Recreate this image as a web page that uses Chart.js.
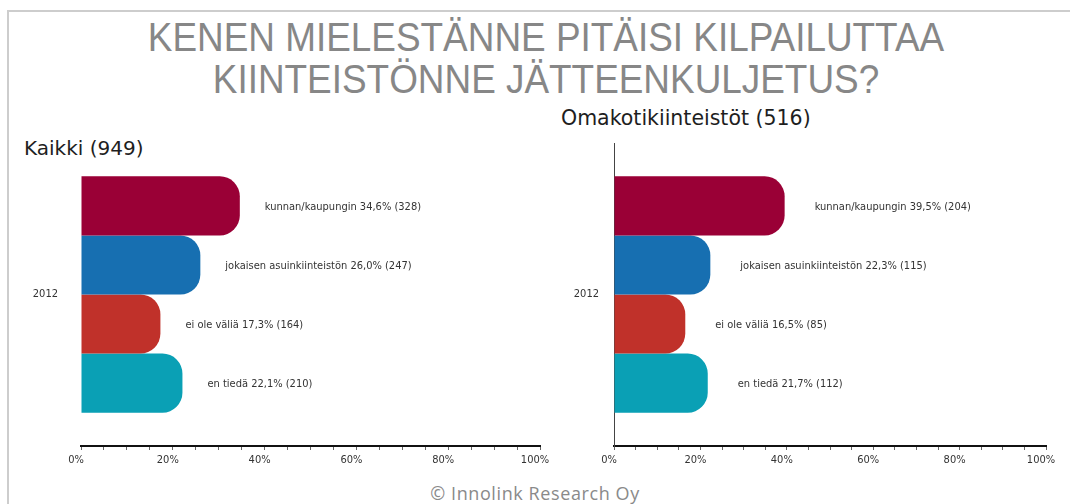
<!DOCTYPE html>
<html>
<head>
<meta charset="utf-8">
<script src="https://cdn.jsdelivr.net/npm/chart.js@4"></script>
<style>
  html, body { margin: 0; padding: 0; background: #fff; }
  body { width: 1070px; height: 504px; position: relative; overflow: hidden; }
  #frame { position: absolute; left: 7px; top: 10px; width: 1061px; height: 520px;
    border-top: 2px solid #cdcdcd; border-left: 2px solid #cdcdcd; }
  #title { position: absolute; left: 0; top: 16px; width: 1092px; text-align: center;
    font-family: 'Liberation Sans Narrow', 'Arial Narrow', 'Liberation Sans', sans-serif;
    font-size: 41px; line-height: 42px; color: #878787;
    transform: scaleX(0.9); transform-origin: 50% 0; }
  .sub { position: absolute; font-family: 'DejaVu Sans', Verdana, sans-serif;
    font-size: 20px; line-height: 20px; color: #1e1e1e; white-space: nowrap; }
  #copy { position: absolute; left: 0; width: 1070px; top: 481px; text-align: center;
    font-family: 'Open Sans', sans-serif; font-size: 18px; letter-spacing: 0.6px; color: #8a8a8a; }
  .box { position: absolute; }
</style>
</head>
<body>
<div id="frame"></div>
<div id="title">KENEN MIELESTÄNNE PITÄISI KILPAILUTTAA<br>KIINTEISTÖNNE JÄTTEENKULJETUS?</div>
<div class="sub" style="left:24px; top:138px;">Kaikki (949)</div>
<div class="sub" style="left:561px; top:108px; font-size:20.5px;">Omakotikiinteistöt (516)</div>
<div class="box" style="left:10px; top:125px;"><canvas id="left" width="560" height="355"></canvas></div>
<div class="box" style="left:550px; top:125px;"><canvas id="right" width="520" height="355"></canvas></div>
<div id="copy">© Innolink Research Oy</div>
<script>
'use strict'
// kategoriat ja vastausvaihtoehdot
const categories = ['2012']
const answers = ['kunnan/kaupungin', 'jokaisen asuinkiinteistön', 'ei ole väliä', 'en tiedä']
const colors = ['#9a0036', '#176fb1', '#c0312a', '#0aa0b5']

// Kaikki (949)
const allPct = [34.6, 26.0, 17.3, 22.1]
const allCount = [328, 247, 164, 210]

// Omakotikiinteistöt (516)
const housePct = [39.5, 22.3, 16.5, 21.7]
const houseCount = [204, 115, 85, 112]

const xLabels = ['0%', '20%', '40%', '60%', '80%', '100%']

const labelFont = "11px 'DejaVu Sans Condensed', 'DejaVu Sans', Verdana, sans-serif"

// tekstit palkkien perään
const barLabels = {
  id: 'barLabels',
  afterDatasetsDraw(chart, args, opts) {
    const ctx = chart.ctx
    ctx.save()
    ctx.font = labelFont
    ctx.fillStyle = '#333'
    ctx.textBaseline = 'middle'
    ctx.textAlign = 'left'
    chart.data.datasets.forEach((ds, i) => {
      const bar = chart.getDatasetMeta(i).data[0]
      const txt = `${ds.label} ${ds.data[0].toFixed(1).replace('.', ',')}% (${opts.counts[i]})`
      ctx.fillText(txt, bar.x + opts.offset, bar.y + 1)
    })
    ctx.restore()
  }
}

function makeChart(id, pct, counts, yWidth, rightPad, yBorder, offset, yGap) {
  const ctx = document.getElementById(id).getContext('2d')
  return new Chart(ctx, {
    type: 'bar',
    data: {
      labels: categories,
      datasets: answers.map((a, i) => ({
        label: a,
        data: [pct[i]],
        backgroundColor: colors[i],
        borderRadius: 20,
        borderSkipped: 'start',
        barPercentage: 1,
        categoryPercentage: 0.78,
      })),
    },
    options: {
      indexAxis: 'y',
      responsive: false,
      animation: false,
      devicePixelRatio: 1,
      layout: { padding: { top: 18, right: rightPad, left: 0, bottom: 0 } },
      plugins: {
        legend: { display: false },
        tooltip: { enabled: false },
        barLabels: { counts: counts, offset: offset },
      },
      scales: {
        x: {
          min: 0,
          max: 100,
          afterFit: (s) => { s.height = 34 },
          border: { display: true, color: '#111', width: 2 },
          grid: { drawOnChartArea: false, drawTicks: true, tickLength: 4, color: '#666' },
          ticks: {
            stepSize: 5,
            autoSkip: false,
            maxRotation: 0,
            padding: 4,
            labelOffset: -5,
            color: '#333',
            font: { family: "'DejaVu Sans Condensed', 'DejaVu Sans', sans-serif", size: 11 },
            callback: (v) => (v % 20 === 0 ? xLabels[v / 20] : ''),
          },
        },
        y: {
          afterFit: (s) => { s.width = yWidth },
          border: { display: yBorder, color: '#444', width: 1 },
          grid: { display: true, drawOnChartArea: false, drawTicks: true, tickLength: yGap, color: 'rgba(0,0,0,0)' },
          ticks: {
            padding: 0,
            color: '#333',
            font: { family: "'DejaVu Sans Condensed', 'DejaVu Sans', sans-serif", size: 11 },
          },
        },
      },
    },
    plugins: [barLabels],
  })
}

makeChart('left', allPct, allCount, 71, 30, false, 25, 23)
makeChart('right', housePct, houseCount, 64, 24, true, 30, 15)
</script>
</body>
</html>
